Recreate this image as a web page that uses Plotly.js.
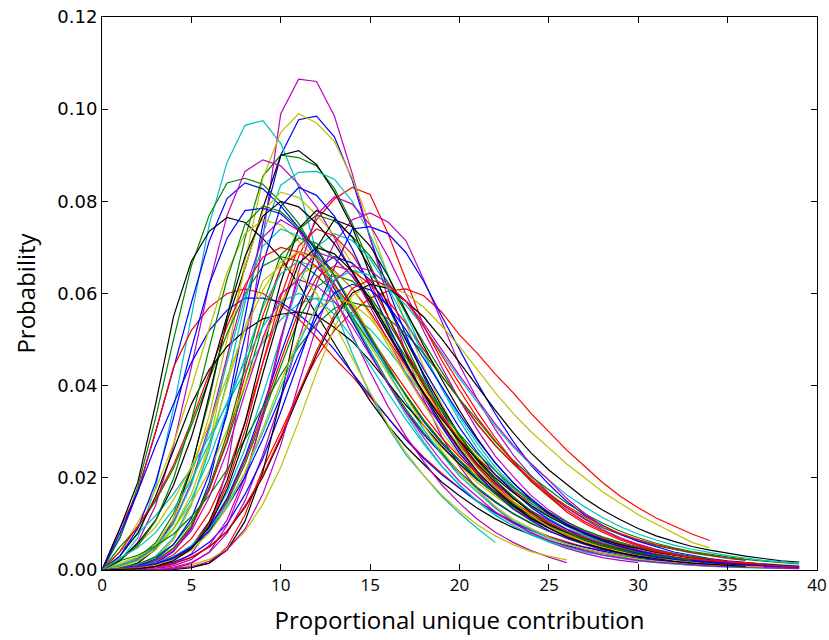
<!DOCTYPE html>
<html><head><meta charset="utf-8">
<script src="https://cdn.plot.ly/plotly-3.0.1.min.js"></script>
<style>body{margin:0;background:#fff}#c{width:829px;height:640px}</style>
</head><body><div id="c"></div>
<script>
// values in per-mille (probability x 1000), at x = 0,1,2,...
const B1=[0,0.1,0.5,1.5,4,9,19,35,55,75,90,97.7,98.5,94,84.6,72,61,51,42,34.5,28,22.5,18,14.5,11.5,9.2,7.3,5.8,4.6,3.6,2.9,2.3,1.8,1.4,1.1];
const G1=[0,1,2.6,5.9,12.2,22.5,36.9,54.9,72,85.5,90,89.5,87.7,82.8,75.2,66.2,57.3,48.8,40.7,33.6,27.3,22.4,17.9,14.3,11.6,9.2,7.4,6,4.7,3.8,3,2.4,2,1.5,1.3,1,0.8];
const R1=[0,0.1,0.5,1.4,3.3,6.8,12.5,21,32,45,57,68,76,80.5,83,81.5,73,63,53,45.5,39,33,28,23.5,19.5,16,13,10.5,8.5,6.8,5.4,4.3,3.4,2.7,2.1,1.7,1.4,1.1,0.9,0.7];
const C1=[0,2,7,18,35,55,75,88.5,96.5,97.5,92.6,83,69,57,47,38,31,25,20.5,16,12.3,9,6];
const M1=[0,0,0.1,0.4,1.2,3.5,9,22,45,72,99,106.5,106,98.5,86,72,59,47,37,29,22.5,17.5,13.5,10.4,8,6.1,4.7,3.6,2.7,2.1,1.6];
const Y1=[0,0.3,1,2.7,6.5,14,27,46,67,85,95,99,97,93,85,75,64,53.5,44,36,29,23.5,19,15,12,9.5,7.5,6,4.7,3.7,2.9];
const K1=[0,0.3,1.5,4.5,11,22,38,54,65.5,78.5,90,91,88,82,74.5,64,55,47,40,33.5,28,23,19,15.5,12.7,10.3,8.4,6.8,5.5,4.4,3.6,2.9,2.3,1.9,1.5,1.2,1];

const B2=[0,7,17,30,43.7,58,71.4,80.6,84,82.7,79,74.3,68,60.9,53.8,47,40.3,34.4,29.4,25.2,21,17.6,14.7,12.2,10.1,8.4,7,5.8,4.9,4,3.4,2.8,2.3,1.9,1.6,1.3];
const G2=[0,7,18,33,50,66,77,84,85,83.7,79.9,75.2,68.9,61.6,54.4,47.6,40.8,34.9,29.8,25.5,21.3,17.9,14.9,12.3,10.2,8.5,7.1,5.9,4.9,4.1,3.4,2.8,2.3,1.9];
const R2=[0,9,17,30,44,52,57,60,61,60,57.5,54.5,50.5,46,42,37.5,33,28.5,24.5,21,17.8,15,12.6,10.5,8.8,7.3,6.1,5,4.2,3.5,2.9,2.4,2,1.7,1.4,1.2,1,0.8];
const C2=[0,0.3,1.1,3,7,14.5,26,41,58,73,83.5,86.3,86.5,84.8,80,72.7,64,55.4,47.1,39.4,32.4,26.4,21.6,17.3,13.8,11.2,8.9,7.2,5.8,4.6,3.7,2.9,2.3,1.9,1.5];
const M2=[0,2,6,14,27,44,62,77,86.5,89,87.7,83.7,78.8,72.1,64.5,57,49.8,42.7,36.5,31.2,26.7,22.3,18.7,15.6,12.9,10.7,8.9,7.4,6.1,5.2,4.3];
const Y2=[0,0.9,2.4,5.4,11.1,20.5,33.6,50,65.6,77.9,82,80.8,77.1,72.6,66.4,59.5,52.5,45.9,39.4,33.6,28.7,24.6,20.5,17.2,14.4,11.9,9.8,8.2,6.8,5.7,4.8,3.9,3.3,2.7];
const K2=[0,9,19,36,55,67,73.5,76.5,75.4,71.9,67.7,62,55.5,49,42.8,36.7,31.4,26.8,23,19.1,16.1,13.4,11.1,9.2,7.7,6.3,5.3,4.4,3.7,3.1,2.5,2.1,1.8,1.5,1.2,1,0.8];

const B3=[0,8,17,27,36,45,52,56.4,59,59,58.1,55.5,52.2,47.8,42.8,37.8,33,28.3,24.2,20.7,17.7,14.8,12.4,10.3,8.6,7.1,5.9,4.9,4.1,3.4,2.8,2.4,1.9,1.6,1.4];
const G3=[0,0.5,1.3,2.8,5.6,10.4,17.7,27.7,40,53.1,65.5,73.9,77,75.8,72.4,68.1,62.4,55.8,49.3,43.1,37,31.6,27,23.1,19.3,16.2,13.5,11.2,9.2,7.7,6.4,5.3,4.5,3.7,3.1,2.5,2.1];
const R3=[0,0,0,0,0.3,0.7,1.5,5,12,22,30,38.5,46,52,56,59,60.5,61,59.5,56,51,47,42.5,38.5,34,30,26,22.5,19,16,13.5,11.3,9.5,7.8,6.4];
const C3=[0,4,8,11.8,16.5,22.1,28.9,36,43.1,49.3,54.3,57.8,59,58.1,55.5,52.2,47.8,42.8,37.8,33,28.3,24.2,20.7,17.7,14.8,12.4,10.3,8.6,7.1,5.9,4.9,4.1,3.4,2.8,2.4,1.9,1.6,1.4,1.1,0.9];
const M3=[0,0,0.1,0.2,0.6,1.6,3.8,8,15,25,37,50,62,71,76,77.5,75.5,71.5,63,54,44.5,37,30.5,25,20.5,16.7,13.5,11,8.8,7,5.6,4.5,3.6,2.9,2.3,1.8,1.5,1.2,0.9,0.7];
const Y3=[0,4,10.3,17.5,27.4,39.5,52.4,64.6,73,76,74.9,71.4,67.3,61.6,55.1,48.6,42.6,36.5,31.2,26.6,22.8,19,16,13.3,11,9.1,7.6,6.3,5.2,4.4,3.6,3,2.5];
const K3=[0,0.1,0.3,0.9,2.3,5.1,10.5,19.5,32,47.6,62.4,74.1,78,76.4,72.2,65.5,57.7,49.9,42.5,35.5,29.3,23.8,19.5,15.6,12.5,10.1,8,6.5,5.2,4.1,3.4,2.7,2.1,1.7,1.3];

const B4=[0,0.1,0.4,0.8,1.7,3.3,6,10,16.4,24.2,34.3,45.4,56.2,65.6,74,74.5,73,68.9,62.6,55.1,47.7,40.6,33.9,27.9,22.7,18.6,14.9,11.9,9.7,7.7,6.2,5,3.9,3.2,2.5,2,1.6,1.3,1,0.8];
const G4=[0,5,9.2,15,22.1,31.3,41.5,51.3,60,66,68,67,63.9,60.2,55.1,49.3,43.5,38.1,32.6,27.9,23.8,20.4,17,14.3,11.9,9.9,8.2,6.8,5.6,4.7,3.9,3.3,2.7,2.2,1.8,1.6,1.3,1,0.9,0.7];
const R4=[0,0.3,0.8,2,4.6,9.3,17.3,28.3,42.1,55.2,65.6,69,68,64.9,61.1,55.9,50,44.2,38.6,33.1,28.3,24.2,20.7,17.3,14.5,12.1,10,8.3,6.9,5.7,4.8,4,3.3,2.8,2.3,1.9,1.6,1.3];
const C4=[0,1.1,2.5,4.9,9,15.4,24.1,34.8,46.2,57,64.3,67,65.7,62,56.3,49.6,42.9,36.5,30.5,25.1,20.4,16.8,13.4,10.7,8.7,6.9,5.6,4.5,3.6,2.9,2.3,1.8,1.5,1.1,0.9,0.7,0.6,0.5];
const M4=[0,0,0.1,0.3,0.9,2.3,5.3,10.9,20.3,33.2,49.4,64.8,77,81,79.4,74.9,68,59.9,51.8,44.1,36.9,30.4,24.7,20.3,16.2,13,10.5,8.3,6.7,5.4,4.3,3.5,2.8,2.2,1.8,1.4,1.1];
const Y4=[0,0,0.1,0.2,0.4,1.1,2.3,4.5,8.4,14.3,22.3,32.2,42.8,52.7,59.5,62,61.5,60,57,53,48.5,43.5,38.5,34,30,26.5,23,20,17,14.5,12,10,8,6,4.8];
const K4=[0,3,8,16,26,36,43.5,48.5,52,54.5,55.5,56,55.2,52.6,49.6,45.4,40.6,35.8,31.4,26.9,23,19.6,16.8,14,11.8,9.8,8.1,6.7,5.6,4.6,3.9,3.2,2.7,2.2,1.8,1.5,1.3,1.1,0.8,0.7];

const B5=[0,3,9,19,33,48,62,72,78,78.5,77.3,73.8,69.5,63.6,56.9,50.2,44,37.7,32.2,27.5,23.6,19.6,16.5,13.7,11.4,9.4,7.9,6.5,5.4,4.6,3.8,3.1,2.6,2.1,1.8];
const G5=[0,0.2,0.4,1.1,2.4,4.7,8.6,14.7,23,33.3,44.2,54.4,61.4,64,62.7,59.2,53.8,47.4,41,34.9,29.1,24,19.5,16,12.8,10.2,8.3,6.6,5.3,4.3,3.4,2.8,2.2,1.7,1.4,1.1,0.9,0.7,0.6,0.5];
const R5=[0,0.2,0.5,1.1,2.4,4.8,8.9,15.2,23.8,34.3,45.5,56.1,63.4,66,65,62,58.4,53.5,47.9,42.2,37,31.7,27.1,23.1,19.8,16.5,13.9,11.6,9.6,7.9,6.6,5.5,4.6,3.8,3.2,2.6,2.2];
const C5=[0,0.2,0.5,1.2,2.7,5.3,9.9,16.8,26.3,38,50.4,62.1,70.1,73,71.5,67.5,61.3,54,46.7,39.8,33.2,27.4,22.3,18.3,14.6,11.7,9.5,7.5,6.1,4.9,3.9,3.1,2.5,2,1.6,1.3,1];
const M5=[0,0.8,2.2,5,10.3,19,31.2,46.4,60.8,72.2,76,73.7,67.3,59.5,51,43,35.5,29,23.5,18.5,14.5,11,8.2,6,4.2,2.8,1.6];
const Y5=[0,1.5,2.9,5.3,8.9,14.5,21.5,30.4,40.3,49.8,58.1,64,66,64.7,61.1,55.4,48.8,42.2,36,30,24.8,20.1,16.5,13.2,10.6,8.6,6.8,5.5,4.4,3.5,2.8,2.2,1.8,1.4,1.1,0.9,0.7,0.6,0.5,0.4];
const K5=[0,0,0,0,0.1,0.5,1.5,4.3,10.6,21.3,37.2,55.5,69.9,76,74.5,70.3,63.8,56.2,48.6,41.4,34.6,28.5,23.2,19,15.2,12.2,9.9,7.8,6.3,5.1,4,3.3,2.6,2.1,1.7,1.3,1.1];

const B6=[0,0.2,0.5,1.2,2.5,5,9.2,15.6,24.5,35.4,46.9,57.8,65.3,68,66.6,62.9,57.1,50.3,43.5,37.1,30.9,25.5,20.7,17,13.6,10.9,8.8,7,5.6,4.6,3.6,2.9,2.3,1.8,1.5,1.2,1,0.7,0.6,0.5];
const G6=[0,0.3,0.8,2.1,4.8,9.7,18,29.5,43.9,57.6,68.4,72,70.9,67.7,63.7,58.3,52.2,46.1,40.3,34.6,29.5,25.2,21.6,18,15.1,12.6,10.4,8.6,7.2,6,5,4.2,3.5,2.9,2.4];
const R6=[0,0.1,0.3,0.8,2.1,4.9,10,18.5,30.3,45.1,59.2,70.3,74,72.5,68.5,62.2,54.8,47.4,40.3,33.7,27.8,22.6,18.5,14.8,11.8,9.6,7.6,6.1,5,3.9,3.2,2.5,2,1.6,1.3,1,0.8,0.7,0.5,0.4];
const C6=[0,0.8,2.1,4.9,10,18.5,30.3,45.1,59.2,70.3,74,72.5,68.5,62.2,54.8,47.4,40.3,33.7,27.8,22.6,18.5,14.8,11.8,9.6,7.6,6.1,5,3.9,3.2,2.5,2,1.6,1.3,1,0.8,0.7,0.5,0.4,0.35,0.3];
const M6=[0,0,0,0.1,0.4,1.4,3.9,9.7,19.3,33.8,50.4,63.5,69,67.6,63.8,58,51.1,44.2,37.6,31.4,25.9,21,17.3,13.8,11,9,7.1,5.7,4.6,3.7,3,2.3,1.9,1.5,1.2,1,0.8,0.6];
const Y6=[0,0.7,1.9,4.4,8.9,16.5,27.1,40.3,52.8,62.7,66,64.5,60,53.5,46,38.5,31.5,25.5,20.5,16.3,12.8,9.8,7.4,5.5,4,3,2.2];
const K6=[0,0.1,0.3,0.7,1.4,2.7,5,8.4,13.6,20.2,28.5,37.8,46.8,54.6,60.1,62,61.1,58.3,54.9,50.2,45,39.7,34.7,29.8,25.4,21.7,18.6,15.5,13,10.9,9,7.4,6.2,5.1,4.3,3.6,3,2.5,2,1.7];

const B7=[0,0.3,0.9,2.4,5.5,11.2,20.8,34,50.6,66.4,78.9,83,81.3,76.8,69.7,61.4,53.1,45.2,37.8,31.1,25.3,20.8,16.6,13.3,10.8,8.5,6.9,5.6,4.4,3.6,2.8,2.2,1.8,1.4,1.2,0.9,0.75];
const G7=[0,2,3.2,5.2,7.8,11.6,16.2,21.8,28.4,35.4,42.3,48.4,53.4,56.8,58,57.1,54.5,51.3,47,42,37.1,32.5,27.8,23.8,20.3,17.4,14.5,12.2,10.2,8.4,7,5.8,4.8,4,3.4,2.8,2.3,1.9,1.6,1.3];
const R7=[0,4,9.5,15.4,22.8,32.2,42.7,52.9,61.8,67.9,70,69,65.8,62,56.7,50.8,44.8,39.2,33.6,28.7,24.5,21,17.5,14.7,12.3,10.2,8.4,7,5.8,4.8,4.1,3.4,2.8,2.3,1.9];
const C7=[0,0.3,0.7,1.5,2.9,5.2,8.8,14.3,21.1,29.9,39.7,49.1,57.2,63,65,64,61.1,57.5,52.7,47.1,41.6,36.4,31.2,26.7,22.8,19.5,16.3,13.7,11.4,9.4,7.8,6.5,5.4,4.5,3.8,3.1,2.6,2.1,1.8,1.5];
const M7=[0,0,0,0.1,0.3,0.7,1.9,4.4,8.9,16.5,27.1,40.3,52.8,62.7,66,65,62,58.4,53.5,47.9,42.2,37,31.7,27.1,23.1,19.5,15.5,12.3,9.5];
const Y7=[0,2,5.5,9.3,15.2,22.4,31.7,42.1,52.1,60.7,66.9,69,67.6,63.8,58,51.1,44.2,37.6,31.4,25.9,21,17.3,13.8,11,9,7.1,5.7,4.6,3.7,3,2.3,1.9,1.5,1.2,1,0.8];
const K7=[0,2,5.8,10.8,18.4,28.8,41.6,55.2,68,76.8,80,78.8,75.2,70.8,64.8,58,51.2,44.8,38.4,32.8,28,24,20,16.8,14,11.6,9.6,8,6.6,5.5,4.6,3.8,3.2,2.6,2.2];

const B8=[0,0.3,0.7,1.4,2.7,5,8.4,13.6,20.2,28.5,37.8,46.8,54.6,60.1,62,60.8,57.4,52.1,45.9,39.7,33.8,28.2,23.3,18.9,15.5,12.4,9.9,8.1,6.4,5.1,4.2,3.3,2.7,2.1,1.7,1.4,1.1,0.9,0.7,0.6];
const G8=[0,2.3,5.2,10.7,19.8,32.4,48.2,63.2,75,79,77.8,74.3,69.9,64,57.3,50.6,44.2,37.9,32.4,27.7,23.7,19.8,16.6,13.8,11.5,9.5,7.9,6.6,5.5,4.6,3.8,3.2,2.6,2.1];
const R8=[0,0.1,0.3,0.7,1.4,2.8,5,8.5,13.9,20.5,29,38.4,47.6,55.4,61.1,63,61.7,58.3,52.9,46.6,40.3,34.3,28.7,23.6,19.2,15.8,12.6,10.1,8.2,6.5,5.2,4.2,3.3,2.7,2.1,1.7,1.4,1.1,0.9,0.7];
const C8=[0,2.6,4.8,8.1,13.2,19.5,27.6,36.6,45.3,52.8,58.2,60,58.8,55.5,50.4,44.4,38.4,32.7,27.3,22.5,18.3,15,12,9.6,7.8,6.2,5,4,3.2,2.6,2,1.6,1.3,1,0.8,0.66,0.54];
const M8=[0,0.3,0.7,1.8,4.2,8.5,15.8,25.8,38.4,50.4,59.9,63,61.7,58.3,52.9,46.6,40.3,34.3,28.7,23.6,19.2,15.8,12.6,10.1,8.2,6.5,5.2,4.2,3.3,2.7,2.1,1.7,1.4,1.1,0.9,0.7,0.6,0.5,0.4,0.3];
const Y8=[0,0.2,0.4,1,2.2,4.3,8,13.6,21.2,30.7,40.7,50.2,56.6,59,57.8,54.6,49.6,43.7,37.8,32.2,26.8,22.1,18,14.8,11.8,9.4,7.7,6.1,4.9,4,3.1,2.5,2,1.6,1.3,1,0.8,0.65];
const K8=[0,0.1,0.3,0.8,2,4.6,9.5,17.5,28.7,42.7,56,66.5,70,68.6,64.8,58.8,51.8,44.8,38.2,31.9,26.3,21.4,17.5,14,11.2,9.1,7.2,5.8,4.7,3.7,3,2.4,1.9,1.5,1.2,1,0.8];

const seriesList=[B1,G1,R1,C1,M1,Y1,K1,B2,G2,R2,C2,M2,Y2,K2,B3,G3,R3,C3,M3,Y3,K3,
  B4,G4,R4,C4,M4,Y4,K4,B5,G5,R5,C5,M5,Y5,K5,B6,G6,R6,C6,M6,Y6,K6,
  B7,G7,R7,C7,M7,Y7,K7,B8,G8,R8,C8,M8,Y8,K8];
const colorCycle=['#0000ff','#008000','#ff0000','#00bfbf','#bf00bf','#bfbf00','#000000'];

const traces=seriesList.map((s,i)=>({
  type:'scatter',mode:'lines',
  x:s.map((_,j)=>j), y:s.map(v=>v/1000),
  line:{color:colorCycle[i%7],width:1.2},
  hoverinfo:'skip',showlegend:false
}));

const layout={
  width:829,height:640,
  margin:{l:102,r:12,t:17,b:70},
  paper_bgcolor:'#fff',plot_bgcolor:'#fff',
  showlegend:false,
  xaxis:{range:[0,40],dtick:5,tick0:0,ticks:'inside',ticklen:6,tickcolor:'#000',
    showline:true,linecolor:'#000',linewidth:1,mirror:'allticks',showgrid:false,zeroline:false,
    tickfont:{family:'Open Sans',size:17,color:'#000'},
    title:{text:'Proportional unique contribution',font:{family:'Open Sans',size:24,color:'#000'},standoff:16}},
  yaxis:{range:[0,0.12],dtick:0.02,tick0:0,tickformat:'.2f',ticks:'inside',ticklen:6,tickcolor:'#000',
    showline:true,linecolor:'#000',linewidth:1,mirror:'allticks',showgrid:false,zeroline:false,
    tickfont:{family:'DejaVu Sans',size:18,color:'#000'},
    title:{text:'Probability',font:{family:'Open Sans',size:24,color:'#000'},standoff:14}}
};
Plotly.newPlot('c',traces,layout,{displayModeBar:false,staticPlot:true});
</script>
</body></html>
